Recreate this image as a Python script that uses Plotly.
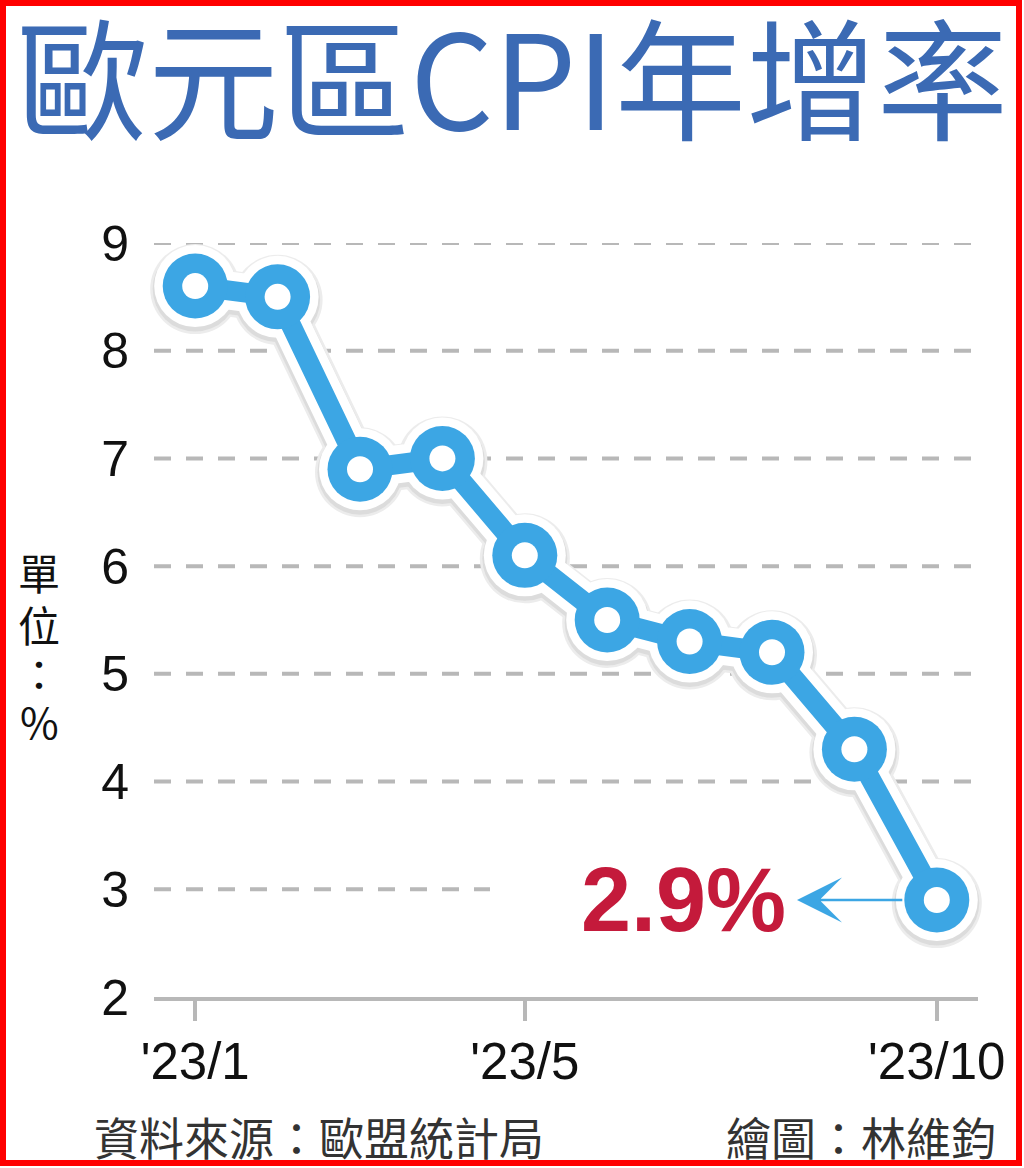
import plotly.graph_objects as go

# ---- data ----
months = [1, 2, 3, 4, 5, 6, 7, 8, 9, 10]
cpi = [8.6, 8.5, 6.9, 7.0, 6.1, 5.5, 5.3, 5.2, 4.3, 2.9]
x_tickvals = [1, 5, 10]
x_ticktext = ["'23/1", "'23/5", "'23/10"]
y_ticks = [2, 3, 4, 5, 6, 7, 8, 9]
title_text = "歐元區CPI年增率"
unit_chars = ["單", "位", "：", "%"]
source_text = "資料來源：歐盟統計局"
credit_text = "繪圖：林維鈞"
last_label = "2.9%"

# ---- geometry ----
W, H = 1024, 1168
L, R, T, B = 154, 46, 243, 171
XR = [0.5, 10.5]
YR = [2, 9]
pw, ph = W - L - R, H - T - B
ppx = pw / (XR[1] - XR[0])
ppy = ph / (YR[1] - YR[0])


def pap(x, y):
    return (x - L) / pw, (H - B - y) / ph


BLUE = "#3CA6E4"
GRID = "#B8B8B8"
TXT = "#111111"
CJK = "Noto Sans CJK TC"
LAT = "Liberation Sans"

fig = go.Figure()

# shadow (shifted a few px down)
sdy = 3 / ppy
for col, lw, ms in [("#ECECEC", 46, 90), ("#DCDCDC", 41, 85)]:
    fig.add_trace(go.Scatter(x=months, y=cpi, mode="lines+markers", xaxis="x2", yaxis="y2",
                             line=dict(color=col, width=lw), marker=dict(color=col, size=ms),
                             cliponaxis=False, hoverinfo="skip"))
# white halo
fig.add_trace(go.Scatter(x=months, y=cpi, mode="lines+markers", xaxis="x3", yaxis="y3",
                         line=dict(color="white", width=38), marker=dict(color="white", size=82),
                         cliponaxis=False, hoverinfo="skip"))
# blue line
fig.add_trace(go.Scatter(x=months, y=cpi, mode="lines+markers", xaxis="x3", yaxis="y3",
                         line=dict(color=BLUE, width=20), marker=dict(color=BLUE, size=65),
                         cliponaxis=False))
# holes
fig.add_trace(go.Scatter(x=months, y=cpi, mode="markers", xaxis="x3", yaxis="y3",
                         marker=dict(color="white", size=26), cliponaxis=False, hoverinfo="skip"))

shapes = []
for v in y_ticks[1:]:
    x1 = XR[1] if v != 3 else XR[0] + (490 - L) / ppx
    shapes.append(dict(type="line", xref="x", yref="y", x0=XR[0], x1=x1, y0=v, y1=v,
                       line=dict(color=GRID, width=4, dash="17px,15px"), layer="below"))
# red frame
fx0, fy0 = pap(3, 3)
fx1, fy1 = pap(1019, 1163)
shapes.append(dict(type="rect", xref="paper", yref="paper", x0=fx0, y0=fy0, x1=fx1, y1=fy1,
                   line=dict(color="#FF0000", width=6), fillcolor="rgba(0,0,0,0)"))

ann = []
tx, ty = pap(512, 73)
ann.append(dict(text=title_text, x=tx, y=ty, xref="paper", yref="paper", showarrow=False,
                xanchor="center", yanchor="middle",
                font=dict(family=CJK, size=131, color="#3B6AB4")))
for ch, yy in zip(unit_chars, [571, 623, 672, 720]):
    ux, uy = pap(39, yy)
    ann.append(dict(text=ch, x=ux, y=uy, xref="paper", yref="paper", showarrow=False,
                    xanchor="center", yanchor="middle",
                    font=dict(family=CJK, size=42, color=TXT)))
sx, sy = pap(92, 1136)
ann.append(dict(text=source_text, x=sx, y=sy, xref="paper", yref="paper", showarrow=False,
                xanchor="left", yanchor="middle",
                font=dict(family=CJK, size=45, color="#333333")))
cx, cy = pap(998, 1136)
ann.append(dict(text=credit_text, x=cx, y=cy, xref="paper", yref="paper", showarrow=False,
                xanchor="right", yanchor="middle",
                font=dict(family=CJK, size=45, color="#333333")))
# arrow from last point to label
head_x = XR[0] + (797 - L) / ppx
ann.append(dict(x=head_x, y=cpi[-1], ax=months[-1], ay=cpi[-1], xref="x", yref="y",
                axref="x", ayref="y", text="", showarrow=True, arrowhead=3,
                arrowsize=3.0, arrowwidth=2.5, arrowcolor=BLUE, startstandoff=33))
lab_x = XR[0] + (788 - L) / ppx
ann.append(dict(x=lab_x, y=cpi[-1], xref="x", yref="y", text=last_label, showarrow=False,
                xanchor="right", yanchor="middle",
                font=dict(family=LAT, size=90, color="#C41A3B", weight="bold")))

fig.update_layout(
    width=W, height=H, margin=dict(l=L, r=R, t=T, b=B, pad=0),
    paper_bgcolor="white", plot_bgcolor="white", showlegend=False,
    xaxis=dict(range=XR, tickvals=x_tickvals, ticktext=x_ticktext, ticks="outside",
               ticklen=20, tickwidth=4, tickcolor=GRID, showline=True, linecolor=GRID,
               linewidth=4, showgrid=False, zeroline=False, ticklabelstandoff=-3,
               tickfont=dict(family=LAT, size=51, color=TXT)),
    yaxis=dict(range=YR, tickvals=y_ticks, showgrid=False, zeroline=False, showline=False,
               ticks="", ticklabelstandoff=24, tickfont=dict(family=LAT, size=50, color=TXT)),
    xaxis2=dict(range=XR, overlaying="x", anchor="y2", visible=False),
    yaxis2=dict(range=[YR[0] + sdy, YR[1] + sdy], overlaying="y", anchor="x2", visible=False),
    xaxis3=dict(range=XR, overlaying="x", anchor="y3", visible=False),
    yaxis3=dict(range=YR, overlaying="y", anchor="x3", visible=False),
    shapes=shapes, annotations=ann,
)

fig.write_html("out.html", config={"displayModeBar": False},
               post_script="document.body.style.margin='0';document.body.style.overflow='hidden';")
